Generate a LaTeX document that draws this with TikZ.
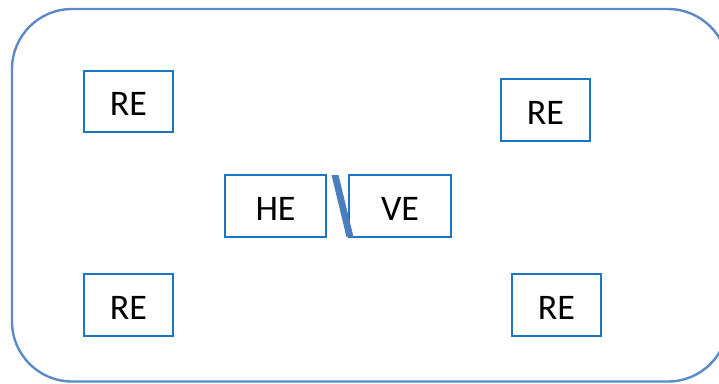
\documentclass[tikz,border=0pt]{standalone}
\usepackage{fontspec}
\setmainfont{Carlito}
\definecolor{outerblue}{HTML}{5B8AC6}
\definecolor{boxblue}{HTML}{1C75C4}
\definecolor{slashblue}{HTML}{4A7EBF}
\begin{document}
\begin{tikzpicture}[x=1pt,y=-1pt,
  ebox/.style={draw=boxblue, line width=2.4pt, fill=white, inner sep=0pt, font=\fontsize{36}{40}\selectfont, text=black, text depth=0pt, text height=28pt, align=center}]
\useasboundingbox (0,0) rectangle (719,383);
\begin{scope}
\clip (0,0) rectangle (719,383);
\draw[outerblue, line width=2.4pt, rounded corners=60pt] (12,9) rectangle (728,381.5);
\end{scope}
\node[ebox, minimum width=89pt, minimum height=61pt] (re1) at (128.5,101.5) {RE};
\node[ebox, minimum width=89pt, minimum height=62pt] (re2) at (545.5,110) {RE};
\node[ebox, minimum width=89pt, minimum height=62pt] (re3) at (128.5,305) {RE};
\node[ebox, minimum width=89pt, minimum height=62pt] (re4) at (556.5,305) {RE};
\node[ebox, minimum width=101pt, minimum height=62pt] (he) at (275.5,206) {HE};
\node[ebox, minimum width=102pt, minimum height=62pt] (ve) at (400,206) {VE};
\coordinate (s1) at (331.5,175);
\coordinate (s2) at (338.5,175);
\coordinate (s3) at (353.5,237);
\coordinate (s4) at (346.5,237);
\fill[slashblue] (s1) -- (s2) -- (s3) -- (s4) -- cycle;
\end{tikzpicture}
\end{document}
